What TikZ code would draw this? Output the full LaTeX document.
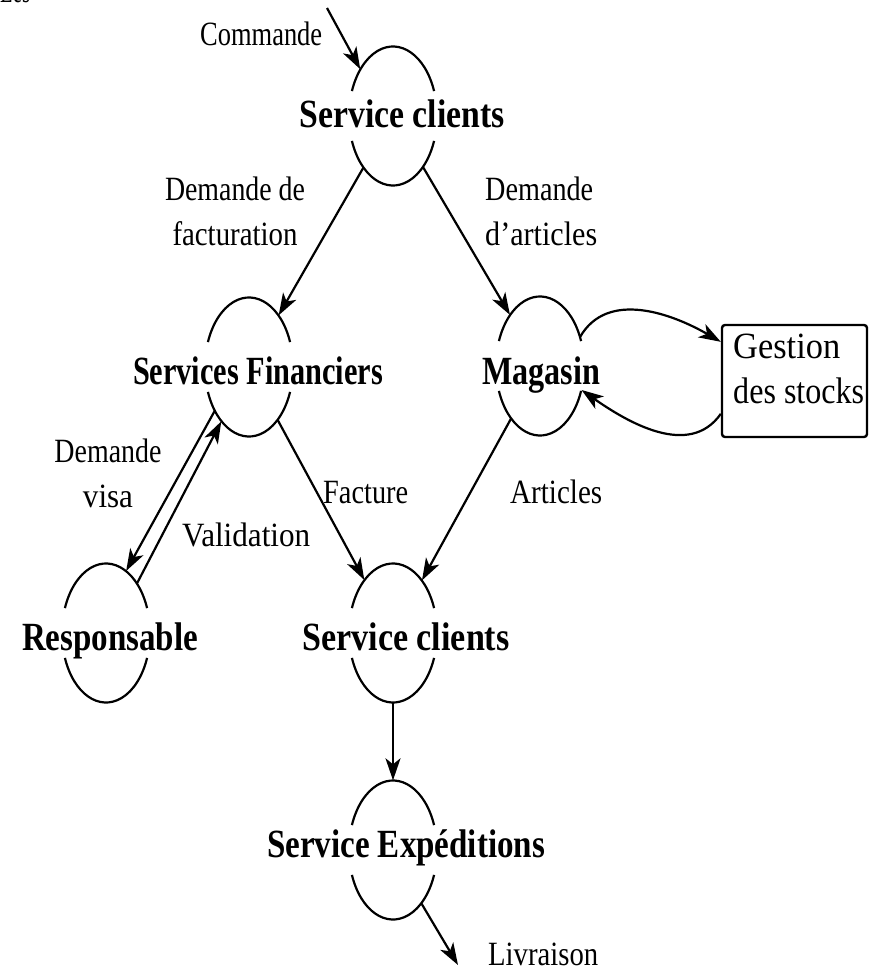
\documentclass[tikz,border=0pt]{standalone}
\usepackage{fontspec}
\setmainfont{Liberation Serif}
\usetikzlibrary{shapes.geometric,arrows.meta}
% squeeze a text horizontally to a given width (in pt), keeping its height
\newcommand\wfit[2]{\resizebox{#1pt}{\height}{#2}}

\begin{document}
\begin{tikzpicture}[x=1pt,y=1pt,
  ln/.style={line width=2.2pt},
  flow/.style={ln,-{Stealth[length=22pt,width=15pt,inset=6pt]}},
  proc/.style={ellipse, minimum width=88pt, minimum height=139pt, inner sep=0pt},
  pname/.style={font=\fontsize{40}{44}\selectfont\bfseries, inner sep=0pt, anchor=base},
  lbl/.style={font=\fontsize{34}{45}\selectfont, inner sep=0pt, anchor=base west},
  lblc/.style={lbl, anchor=base},
  store/.style={draw, line width=2.4pt, rounded corners=3pt, minimum width=145pt,
                minimum height=112pt, inner sep=0pt}]
\useasboundingbox (0,0) rectangle (869,-971);

% processes (ellipses)
\node[proc] (sc1)  at (393,-116) {};
\node[proc] (sf)   at (249,-367) {};
\node[proc] (mag)  at (540,-366) {};
\node[proc] (resp) at (106,-633) {};
\node[proc] (sc2)  at (393,-633) {};
\node[proc] (se)   at (393,-850) {};

% each ellipse is drawn as two arcs, open where its name runs across
\foreach \n in {sc1,sf,mag,resp,sc2,se}{
  \draw[ln] ([shift={(21:44 and 69.5)}]\n.center)
    arc[start angle=21,end angle=159,x radius=44,y radius=69.5];
  \draw[ln] ([shift={(201:44 and 69.5)}]\n.center)
    arc[start angle=201,end angle=339,x radius=44,y radius=69.5];
}

% stock management store
\node[store] (gest) at (794.5,-381) {};

% process names
\node[pname] (sc1t)  at (402,-128) {\wfit{205}{Service clients}};
\node[pname] (sft)   at (258,-384) {\wfit{250}{Services Financiers}};
\node[pname] (magt)  at (541,-384) {\wfit{118}{Magasin}};
\node[pname] (respt) at (110,-650) {\wfit{176}{Responsable}};
\node[pname] (sc2t)  at (406,-650) {\wfit{207}{Service clients}};
\node[pname] (setx)  at (406,-857) {\wfit{278}{Service Expéditions}};

% flow labels
\node[lbl] (frag) at (0,-3) {\wfit{30}{Les}};
\node[lbl] (cmd) at (200,-46) {\wfit{122}{Commande}};
\node[lblc] (dfac) at (235,-200)
  {\begin{tabular}[t]{@{}c@{}}\wfit{140}{Demande de}\\\wfit{125}{facturation}\end{tabular}};
\node[lbl] (dart) at (485,-200)
  {\begin{tabular}[t]{@{}l@{}}\wfit{108}{Demande}\\\wfit{112}{d’articles}\end{tabular}};
\node[lblc] (dvisa) at (108,-462)
  {\begin{tabular}[t]{@{}c@{}}\wfit{107}{Demande}\\\wfit{50}{visa}\end{tabular}};
\node[lbl] (valid) at (182,-546) {\wfit{128}{Validation}};
\node[lbl] (fact)  at (323,-503) {\wfit{85}{Facture}};
\node[lbl] (art)   at (510,-503) {\wfit{92}{Articles}};
\node[lbl] (liv)   at (488,-965) {\wfit{110}{Livraison}};
\node[lbl, font=\fontsize{37}{45}\selectfont] (gestt) at (733,-358)
  {\begin{tabular}[t]{@{}l@{}}\wfit{107}{Gestion}\\\wfit{131}{des stocks}\end{tabular}};

% free ends
\coordinate (cmdin)  at (327,-8);
\coordinate (livout) at (458,-965);

% flows
\draw[flow] (cmdin) -- (sc1.125);
\draw[flow] (sc1) -- (sf);
\draw[flow] (sc1) -- (mag);
\draw[flow] (sf) -- (sc2);
\draw[flow] (mag) -- (sc2);
\draw[flow] (sf.232) -- (resp.72);
\draw[flow] (resp.58) -- (sf.243);
\draw[flow] (sc2) -- (se);
\draw[flow] (se.-62) -- (livout);
\draw[flow] (mag.36) to[out=60,in=150] (gest.152);
\draw[flow] (gest.204) to[out=235,in=-35] (mag.-30);
\end{tikzpicture}
\end{document}
